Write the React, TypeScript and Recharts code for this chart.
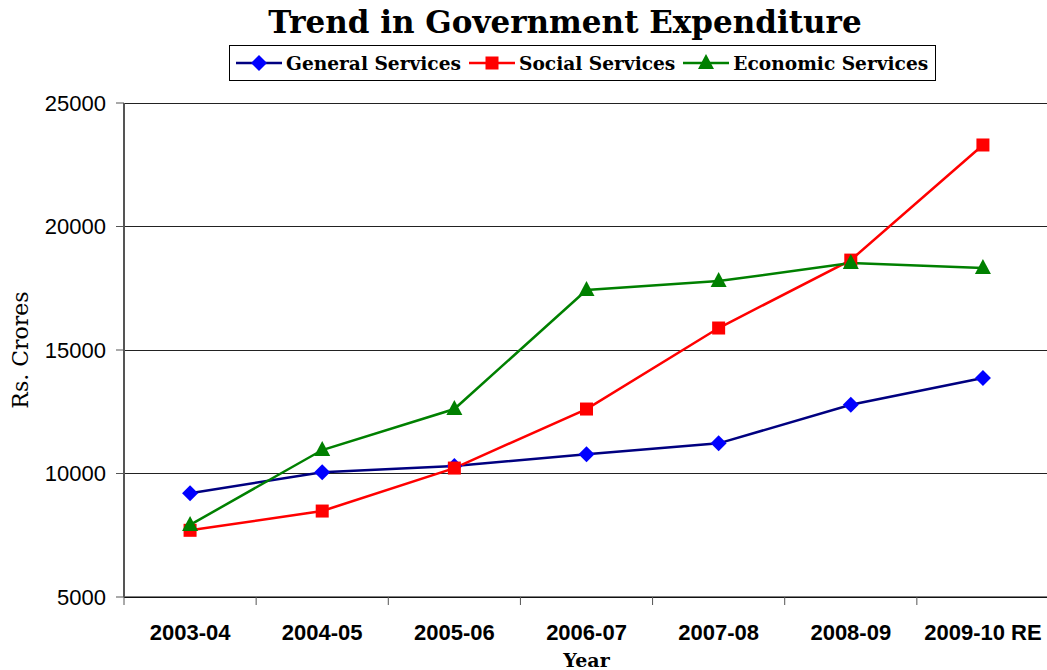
import { LineChart, Line, XAxis, YAxis, CartesianGrid, Label } from 'recharts';

const years = ['2003-04', '2004-05', '2005-06', '2006-07', '2007-08', '2008-09', '2009-10 RE'];
const generalServices = [9200, 10050, 10300, 10780, 11220, 12780, 13870];
const socialServices = [7700, 8480, 10220, 12610, 15890, 18640, 23300];
const economicServices = [7920, 10950, 12610, 17430, 17790, 18520, 18320];
const yTicks = [5000, 10000, 15000, 20000, 25000];

const data = years.map((year, i) => ({
  year,
  general: generalServices[i],
  social: socialServices[i],
  economic: economicServices[i],
}));

const SERIF = '"DejaVu Serif", serif';
const SANS = '"Liberation Sans", Arial, sans-serif';

type Marker = 'diamond' | 'square' | 'triangle';

const series: { key: string; name: string; line: string; fill: string; marker: Marker }[] = [
  { key: 'general', name: 'General Services', line: '#000080', fill: '#0000FF', marker: 'diamond' },
  { key: 'social', name: 'Social Services', line: '#FF0000', fill: '#FF0000', marker: 'square' },
  { key: 'economic', name: 'Economic Services', line: '#008000', fill: '#008000', marker: 'triangle' },
];

function markerShape(kind: Marker, cx: number, cy: number, fill: string, key?: string) {
  if (kind === 'diamond') {
    return <polygon key={key} points={`${cx},${cy - 8} ${cx + 8},${cy} ${cx},${cy + 8} ${cx - 8},${cy}`} fill={fill} />;
  }
  if (kind === 'square') {
    return <rect key={key} x={cx - 6.5} y={cy - 6.5} width={13} height={13} fill={fill} />;
  }
  return <polygon key={key} points={`${cx},${cy - 9} ${cx + 8},${cy + 6} ${cx - 8},${cy + 6}`} fill={fill} />;
}

// category label at band centre plus a tick mark on the band's left edge
function YearTick(props: any) {
  const { x, y, payload, index, visibleTicksCount } = props;
  const half = payload.offset || 0;
  const left = x - half;
  return (
    <g>
      <line x1={left} y1={y} x2={left} y2={y + 8} stroke="#555" />
      {index === visibleTicksCount - 1 && (
        <line x1={x + half} y1={y} x2={x + half} y2={y + 8} stroke="#555" />
      )}
      <text
        x={x}
        y={y + 43}
        textAnchor="middle"
        style={{ fontFamily: SANS, fontWeight: 'bold', fontSize: 22, fill: '#000' }}
      >
        {payload.value}
      </text>
    </g>
  );
}

function LegendBox() {
  return (
    <div
      style={{
        position: 'absolute',
        left: 229,
        top: 45,
        width: 707,
        height: 36,
        border: '1px solid #000',
        boxSizing: 'border-box',
        display: 'flex',
        alignItems: 'center',
        paddingLeft: 6,
        fontFamily: SERIF,
        fontWeight: 'bold',
        fontSize: 18.6,
        whiteSpace: 'nowrap',
      }}
    >
      {series.map((s) => (
        <span key={s.key} style={{ display: 'inline-flex', alignItems: 'center', marginRight: 8 }}>
          <svg width={46} height={20} style={{ marginRight: 4 }}>
            <line x1={0} y1={10} x2={46} y2={10} stroke={s.line} strokeWidth={2.5} />
            {markerShape(s.marker, 23, 10, s.fill)}
          </svg>
          {s.name}
        </span>
      ))}
    </div>
  );
}

export default function App() {
  return (
    <div style={{ position: 'absolute', left: 0, top: 0, width: 1047, height: 670, background: '#fff', overflow: 'hidden' }}>
      <div
        style={{
          position: 'absolute',
          left: 0,
          top: 4,
          width: 1130,
          textAlign: 'center',
          fontFamily: SERIF,
          fontWeight: 'bold',
          fontSize: 31,
        }}
      >
        Trend in Government Expenditure
      </div>
      <LegendBox />
      <LineChart width={1049} height={670} data={data} margin={{ top: 103, right: 0, bottom: 0, left: 0 }}>
        <CartesianGrid horizontal vertical={false} stroke="#222" shapeRendering="crispEdges" />
        <XAxis
          dataKey="year"
          scale="band"
          height={73}
          axisLine={{ stroke: '#000' }}
          tickLine={false}
          tickSize={0}
          tickMargin={0}
          interval={0}
          tick={<YearTick />}
        >
          <Label
            value="Year"
            position="insideBottom"
            offset={3}
            style={{ fontFamily: SERIF, fontWeight: 'bold', fontSize: 19, fill: '#000' }}
          />
        </XAxis>
        <YAxis
          domain={[5000, 25000]}
          ticks={yTicks}
          width={124}
          tickSize={8}
          tickMargin={10}
          axisLine={{ stroke: '#555', strokeWidth: 2 }}
          tickLine={{ stroke: '#555' }}
          tick={{ fill: '#000', fontFamily: SANS, fontSize: 22 }}
        >
          <Label
            content={({ viewBox }: any) => {
              const cx = viewBox.x + 20;
              const cy = viewBox.y + viewBox.height / 2;
              return (
                <text
                  x={cx}
                  y={cy}
                  transform={`rotate(-90 ${cx} ${cy})`}
                  textAnchor="middle"
                  dominantBaseline="central"
                  style={{ fontFamily: SERIF, fontSize: 22, fill: '#000' }}
                >
                  Rs. Crores
                </text>
              );
            }}
          />
        </YAxis>
        {series.map((s) => (
          <Line
            key={s.key}
            dataKey={s.key}
            name={s.name}
            stroke={s.line}
            strokeWidth={2.5}
            isAnimationActive={false}
            dot={(p: any) => markerShape(s.marker, p.cx, p.cy, s.fill, `${s.key}-${p.index}`)}
            activeDot={false}
          />
        ))}
      </LineChart>
    </div>
  );
}
